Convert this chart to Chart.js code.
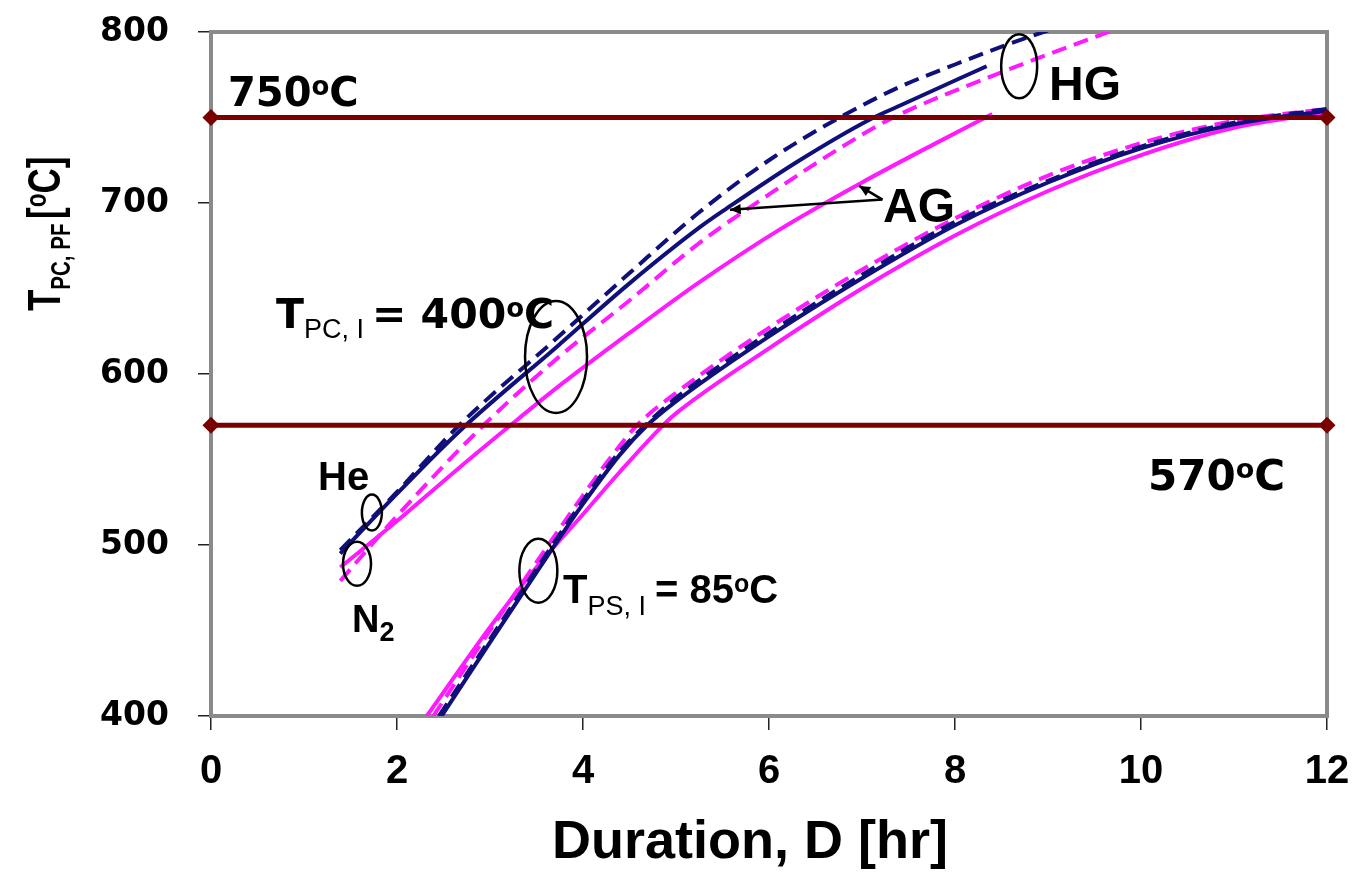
<!DOCTYPE html>
<html>
<head>
<meta charset="utf-8">
<script src="https://cdn.jsdelivr.net/npm/chart.js@4/dist/chart.umd.min.js"></script>
<style>
  body { margin: 0; background: #fff; }
  #wrap { width: 1368px; height: 884px; }
</style>
</head>
<body>
<div id="wrap"><canvas id="tempChart" width="1368" height="884"></canvas></div>
<script>
// Axis ticks
const xTicks = [0, 2, 4, 6, 8, 10, 12];
const yTicks = [400, 500, 600, 700, 800];

// T_PC,I = 400 C group (He / N2, HG dashed, AG solid)
const pcHeHG_x = [1.39, 2.0, 2.65, 3.72, 4.5, 5.26, 6.0, 6.76, 7.41, 8.0, 8.48, 8.95, 9.4];
const pcHeHG_y = [497, 531, 569, 621, 659, 695, 725, 750, 768, 781, 791, 800, 808];
const pcHeAG_x = [1.39, 2.0, 2.7, 3.72, 4.5, 5.26, 5.55, 6.3, 7.09, 7.41, 8.34];
const pcHeAG_y = [495, 530, 568, 616, 653, 686, 697, 724, 749, 757, 780];
const pcN2HG_x = [1.39, 2.0, 2.93, 3.72, 4.5, 5.26, 6.0, 6.76, 7.3, 8.48, 9.7];
const pcN2HG_y = [479, 517, 570, 609, 643, 677, 705, 732, 749, 776, 801];
const pcN2AG_x = [1.39, 2.0, 2.6, 3.22, 3.72, 4.5, 5.26, 6.1, 7.0, 7.76, 8.4];
const pcN2AG_y = [487, 514, 542, 570, 592, 624, 654, 684, 712, 734, 752];

// T_PS,I = 85 C group
const psHeAG_x = [2.48, 3.0, 3.5, 4.0, 4.4, 4.69, 5.0, 6.0, 7.0, 8.0, 9.0, 10.0, 11.0, 12.0];
const psHeAG_y = [400, 443, 484, 524, 553, 570, 584, 622, 656, 687, 712, 732, 746, 754];
const psHeHG_x = [2.45, 3.0, 3.5, 4.0, 4.4, 4.67, 5.0, 6.0, 7.0, 8.0, 9.0, 10.0, 11.0, 12.0];
const psHeHG_y = [400, 445, 486, 526, 555, 570, 586, 624, 658, 689, 713, 733, 747, 755];
const psN2HG_x = [2.39, 3.0, 3.5, 4.0, 4.35, 4.58, 5.0, 6.0, 7.0, 8.0, 9.0, 10.0, 11.0, 12.0];
const psN2HG_y = [400, 450, 490, 529, 555, 570, 589, 627, 661, 691, 716, 735, 748, 755];
const psN2AG_x = [2.32, 3.0, 3.5, 4.0, 4.4, 4.86, 5.0, 6.0, 7.0, 8.0, 9.0, 10.0, 11.0, 12.0];
const psN2AG_y = [400, 452, 487, 518, 543, 570, 577, 615, 650, 681, 707, 728, 744, 753];

// Limit lines
const limitX = [0, 12];
const limit750 = [750, 750];
const limit570 = [570, 570];

const NAVY = '#10107a';
const PINK = '#ff1aff';
const RED = '#7a0000';

const pts = (xs, ys) => xs.map((x, i) => ({ x: x, y: ys[i] }));

function curve(label, xs, ys, color, dashed) {
    return {
        label: label,
        data: pts(xs, ys),
        borderColor: color,
        borderWidth: 4,
        borderDash: dashed ? [15, 8] : [],
        pointRadius: 0,
        cubicInterpolationMode: 'monotone',
        fill: false
    };
}

function limitLine(label, ys) {
    return {
        label: label,
        data: pts(limitX, ys),
        borderColor: RED,
        borderWidth: 5,
        pointStyle: 'rectRot',
        pointRadius: 5,
        pointBackgroundColor: RED,
        pointBorderColor: RED,
        clip: false,
        fill: false
    };
}

// draws a run of text pieces (sub/superscripts) one after another
function drawRich(ctx, parts, x, y) {
    let cx = x;
    parts.forEach(p => {
        ctx.font = p.font;
        ctx.fillText(p.t, cx, y + (p.dy || 0));
        cx += ctx.measureText(p.t).width + (p.gap || 0);
    });
}

const F = (size, fam) => 'bold ' + size + 'px ' + (fam || '"Liberation Sans", Arial, sans-serif');
const DJ = '"DejaVu Sans", sans-serif';

const decorPlugin = {
    id: 'decor',
    beforeDatasetsDraw(chart) {
        const { ctx, chartArea: a } = chart;
        ctx.save();
        ctx.strokeStyle = '#8a8a8a';
        ctx.lineWidth = 4;
        ctx.strokeRect(a.left, a.top, a.right - a.left, a.bottom - a.top);
        ctx.restore();
    },
    afterDatasetsDraw(chart) {
        const { ctx } = chart;
        const xs = chart.scales.x, ys = chart.scales.y;
        const px = v => xs.getPixelForValue(v);
        const py = v => ys.getPixelForValue(v);
        ctx.save();
        ctx.strokeStyle = '#000';
        ctx.fillStyle = '#000';
        ctx.lineWidth = 2.5;

        // ellipses marking groups
        const ell = [
            [8.69, 780, 18, 32],
            [3.71, 610, 31, 56],
            [1.73, 519, 10, 18],
            [1.57, 489, 14, 22],
            [3.52, 485, 19, 32]
        ];
        ell.forEach(e => {
            ctx.beginPath();
            ctx.ellipse(px(e[0]), py(e[1]), e[2], e[3], 0, 0, Math.PI * 2);
            ctx.stroke();
        });

        // AG arrows
        const ox = px(7.22), oy = py(702);
        [[5.58, 696], [6.97, 710]].forEach(t => {
            const tx = px(t[0]), ty = py(t[1]);
            ctx.beginPath();
            ctx.moveTo(ox, oy);
            ctx.lineTo(tx, ty);
            ctx.stroke();
            const ang = Math.atan2(ty - oy, tx - ox);
            ctx.beginPath();
            ctx.moveTo(tx, ty);
            ctx.lineTo(tx - 12 * Math.cos(ang - 0.45), ty - 12 * Math.sin(ang - 0.45));
            ctx.lineTo(tx - 12 * Math.cos(ang + 0.45), ty - 12 * Math.sin(ang + 0.45));
            ctx.closePath();
            ctx.fill();
        });

        ctx.textBaseline = 'alphabetic';
        ctx.textAlign = 'left';
        drawRich(ctx, [
            { t: '750', font: F(40, DJ) },
            { t: 'o', font: F(26, DJ), dy: -11 },
            { t: 'C', font: F(40, DJ) }
        ], 228, 106);
        drawRich(ctx, [
            { t: '570', font: F(42, DJ) },
            { t: 'o', font: F(27, DJ), dy: -12 },
            { t: 'C', font: F(42, DJ) }
        ], 1148, 490);
        drawRich(ctx, [{ t: 'HG', font: F(48) }], 1049, 100);
        drawRich(ctx, [{ t: 'AG', font: F(48) }], 883, 222);
        drawRich(ctx, [
            { t: 'T', font: F(41, DJ) },
            { t: 'PC, I', font: '27px "Liberation Sans", Arial, sans-serif', dy: 10, gap: 8 },
            { t: '= 400', font: F(41, DJ) },
            { t: 'o', font: F(26, DJ), dy: -11 },
            { t: 'C', font: F(41, DJ) }
        ], 276, 328);
        drawRich(ctx, [{ t: 'He', font: F(40) }], 318, 490);
        drawRich(ctx, [
            { t: 'N', font: F(38) },
            { t: '2', font: F(27), dy: 9 }
        ], 352, 632);
        drawRich(ctx, [
            { t: 'T', font: F(40) },
            { t: 'PS, I', font: '27px "Liberation Sans", Arial, sans-serif', dy: 12, gap: 9 },
            { t: '= 85', font: F(40) },
            { t: 'o', font: F(25), dy: -11 },
            { t: 'C', font: F(40) }
        ], 563, 603);

        // axis titles
        ctx.textAlign = 'center';
        ctx.font = F(54);
        ctx.fillText('Duration, D [hr]', 750, 858);

        ctx.translate(60, 311);
        ctx.rotate(-Math.PI / 2);
        ctx.scale(0.76, 1);
        ctx.textAlign = 'left';
        drawRich(ctx, [
            { t: 'T', font: F(46) },
            { t: 'PC, PF', font: F(27), dy: 10, gap: 6 },
            { t: '[', font: F(46) },
            { t: 'o', font: F(30), dy: -14 },
            { t: 'C]', font: F(46) }
        ], 0, 0);
        ctx.restore();
    }
};

function noPad(s) {
    s.paddingTop = 0;
    s.paddingBottom = 0;
    s.paddingLeft = 0;
    s.paddingRight = 0;
}

const ctx = document.getElementById('tempChart').getContext('2d');
const tempChart = new Chart(ctx, {
    type: 'line',
    data: {
        datasets: [
            limitLine('750 C', limit750),
            limitLine('570 C', limit570),
            curve('PC He HG', pcHeHG_x, pcHeHG_y, NAVY, true),
            curve('PC He AG', pcHeAG_x, pcHeAG_y, NAVY, false),
            curve('PC N2 HG', pcN2HG_x, pcN2HG_y, PINK, true),
            curve('PC N2 AG', pcN2AG_x, pcN2AG_y, PINK, false),
            curve('PS He HG', psHeHG_x, psHeHG_y, NAVY, true),
            curve('PS He AG', psHeAG_x, psHeAG_y, NAVY, false),
            curve('PS N2 AG', psN2AG_x, psN2AG_y, PINK, false),
            curve('PS N2 HG', psN2HG_x, psN2HG_y, PINK, true)
        ]
    },
    options: {
        responsive: false,
        animation: false,
        layout: { padding: { left: 0, top: 32, right: 41, bottom: 0 } },
        plugins: {
            legend: { display: false },
            tooltip: { enabled: false }
        },
        scales: {
            x: {
                type: 'linear',
                min: xTicks[0],
                max: xTicks[xTicks.length - 1],
                afterBuildTicks: s => { s.ticks = xTicks.map(v => ({ value: v })); },
                afterFit: s => { s.height = 168; noPad(s); },
                border: { display: false },
                grid: { drawOnChartArea: false, tickLength: 14, color: '#222', lineWidth: 1.5 },
                ticks: {
                    color: '#000',
                    padding: 18,
                    maxRotation: 0,
                    font: { family: '"Liberation Sans", Arial, sans-serif', weight: 'bold', size: 40 }
                }
            },
            y: {
                min: yTicks[0],
                max: yTicks[yTicks.length - 1],
                afterBuildTicks: s => { s.ticks = yTicks.map(v => ({ value: v })); },
                afterFit: s => { s.width = 211; noPad(s); },
                border: { display: false },
                grid: { drawOnChartArea: false, tickLength: 13, color: '#222', lineWidth: 1.5 },
                ticks: {
                    color: '#000',
                    padding: 29,
                    font: { family: '"DejaVu Sans", sans-serif', weight: 'bold', size: 33 }
                }
            }
        }
    },
    plugins: [decorPlugin]
});
</script>
</body>
</html>
